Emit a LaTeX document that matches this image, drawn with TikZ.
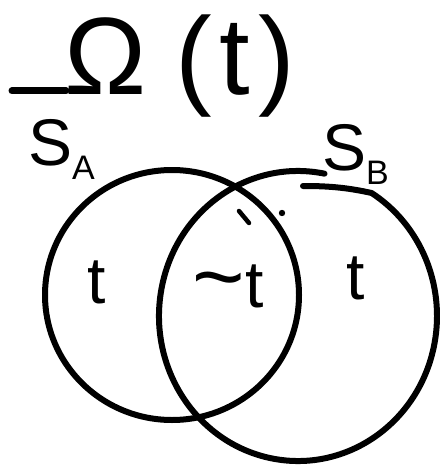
\documentclass[tikz,border=0pt]{standalone}
\usepackage{fontspec}
\setmainfont{Liberation Sans}
\begin{document}
\begin{tikzpicture}[x=1pt,y=1pt,
  stroke/.style={line width=6pt,line cap=round,line join=round},
  lbl/.style={inner sep=0pt},
  big/.style={font=\fontsize{66}{66}\selectfont}]
\useasboundingbox (0,0) rectangle (439,-465);
% title
\node[lbl,anchor=base,font=\fontsize{110}{110}\selectfont] (title) at (180,-95) {Ω\hspace{28pt}(\hspace{8pt}t\hspace{8pt})};
\coordinate (dashL) at (12,-91);
\coordinate (dashR) at (66,-91);
\draw[stroke,line width=7pt] (dashL) -- (dashR);
% set labels
\node[lbl,big,anchor=base west] (sa) at (28,-165) {S\textsubscript{\fontsize{34}{34}\selectfont A}};
\node[lbl,big,anchor=base west] (sb) at (322,-170) {S\textsubscript{\fontsize{34}{34}\selectfont B}};
% circles
\draw[stroke] (172,-295) ellipse [x radius=127, y radius=125];
\draw[stroke] (298,-316) ++(79:139 and 145) arc [start angle=79, end angle=418, x radius=139, y radius=145]
  .. controls (345,-187) and (325,-186) .. (303,-186);
% marks
\coordinate (dot) at (282,-213);
\fill (dot) circle (3.2);
\draw[stroke,line width=4.5pt] (239,-211) -- (249,-223);
% region labels
\node[lbl,big] (tA) at (97,-282) {t};
\node[lbl,big,anchor=base] (tAB) at (228,-307) {{\fontsize{90}{90}\selectfont\char`\~}t};
\node[lbl,big] (tB) at (356,-278) {t};
\end{tikzpicture}
\end{document}
